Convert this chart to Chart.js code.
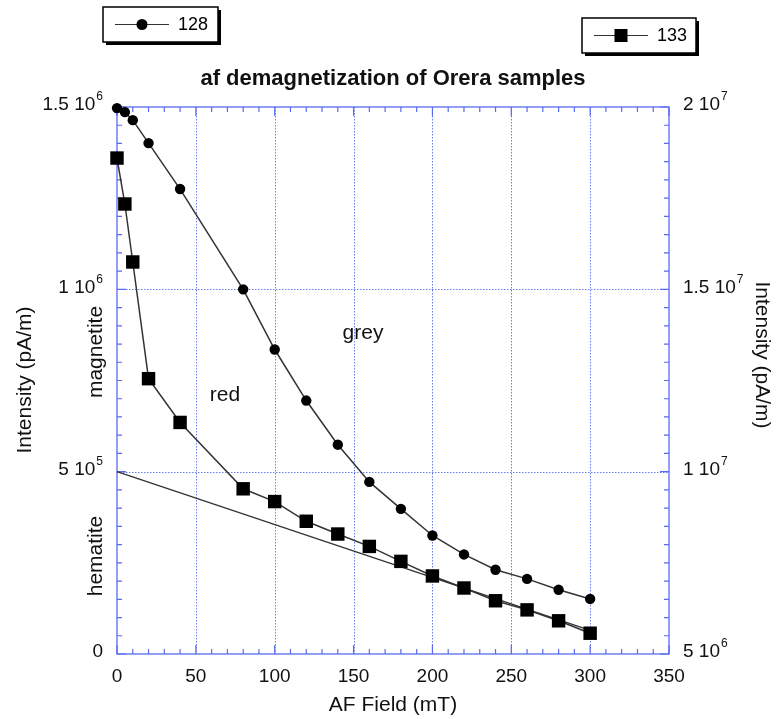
<!DOCTYPE html>
<html>
<head>
<meta charset="utf-8">
<script src="https://cdn.jsdelivr.net/npm/chart.js@4.4.1/dist/chart.umd.min.js"></script>
<style>
  html, body { margin: 0; padding: 0; background: #ffffff; }
  #wrap { position: relative; width: 779px; height: 719px; }
</style>
</head>
<body>
<div id="wrap"><canvas id="c" width="779" height="719"></canvas></div>
<script>
// ---------------- data ----------------
const afField = [0, 5, 10, 20, 40, 80, 100, 120, 140, 160, 180, 200, 220, 240, 260, 280, 300];
const sample128 = [1.497e6, 1.486e6, 1.464e6, 1.401e6, 1.275e6, 1.0e6, 0.835e6, 0.695e6, 0.574e6, 0.472e6, 0.398e6, 0.325e6, 0.273e6, 0.231e6, 0.206e6, 0.176e6, 0.151e6];
const sample133 = [1.860e7, 1.734e7, 1.575e7, 1.255e7, 1.135e7, 9.53e6, 9.18e6, 8.64e6, 8.29e6, 7.95e6, 7.54e6, 7.14e6, 6.81e6, 6.46e6, 6.21e6, 5.91e6, 5.57e6];
const hematiteX = [0, 300];
const hematiteY = [1.0e7, 5.65e6];
const seriesLabels = ['128', '133'];
const xTicks = [0, 50, 100, 150, 200, 250, 300, 350];
const leftTicks = [0, 5e5, 1e6, 1.5e6];
const rightTicks = [5e6, 1e7, 1.5e7, 2e7];
const titleText = 'af demagnetization of Orera samples';
const xTitle = 'AF Field (mT)';
const yTitle = 'Intensity (pA/m)';
const notes = [
  { text: 'grey', x: 156, y: 0.88e6 },
  { text: 'red', x: 68.5, y: 0.709e6 }
];

// ---------------- styling ----------------
const FONT = '"Liberation Sans", Arial, Helvetica, sans-serif';
const AXIS_BLUE = '#5a6af0';
const GRID_BLUE = '#6b7cf0';

function sciParts(v) {
  if (v === 0) return { main: '0', sup: '' };
  const e = Math.floor(Math.log10(v) + 1e-9);
  let m = v / Math.pow(10, e);
  m = Math.round(m * 10) / 10;
  return { main: m + ' 10', sup: String(e) };
}

function drawSci(ctx, v, x, y, align) {
  const p = sciParts(v);
  ctx.font = '19px ' + FONT;
  const wm = ctx.measureText(p.main).width;
  ctx.font = '12px ' + FONT;
  const ws = p.sup ? ctx.measureText(p.sup).width + 1 : 0;
  const total = wm + ws;
  let sx = x;
  if (align === 'right') sx = x - total;
  else if (align === 'center') sx = x - total / 2;
  ctx.fillStyle = '#111';
  ctx.textAlign = 'left';
  ctx.textBaseline = 'middle';
  ctx.font = '19px ' + FONT;
  ctx.fillText(p.main, sx, y);
  if (p.sup) {
    ctx.font = '12px ' + FONT;
    ctx.fillText(p.sup, sx + wm + 1, y - 8);
  }
}

const framePlugin = {
  id: 'framePlugin',
  beforeDatasetsDraw(chart) {
    const ctx = chart.ctx;
    const a = chart.chartArea;
    const xs = chart.scales.x, ys = chart.scales.y;
    ctx.save();
    // dotted grid
    ctx.strokeStyle = GRID_BLUE;
    ctx.lineWidth = 1;
    ctx.setLineDash([1.5, 1.5]);
    xTicks.forEach(t => {
      if (t === xs.min || t === xs.max) return;
      const px = Math.round(xs.getPixelForValue(t)) + 0.5;
      ctx.beginPath(); ctx.moveTo(px, a.top); ctx.lineTo(px, a.bottom); ctx.stroke();
    });
    leftTicks.forEach(t => {
      if (t === ys.min || t === ys.max) return;
      const py = Math.round(ys.getPixelForValue(t)) + 0.5;
      ctx.beginPath(); ctx.moveTo(a.left, py); ctx.lineTo(a.right, py); ctx.stroke();
    });
    ctx.setLineDash([]);
    // frame
    ctx.strokeStyle = AXIS_BLUE;
    ctx.lineWidth = 1.3;
    ctx.strokeRect(a.left, a.top, a.right - a.left, a.bottom - a.top);
    // x ticks (inward, top and bottom)
    ctx.lineWidth = 1.2;
    for (let t = xs.min; t <= xs.max + 1e-9; t += 10) {
      const major = Math.abs(t % 50) < 1e-9;
      const len = major ? 9 : 5;
      const px = xs.getPixelForValue(t);
      ctx.beginPath();
      ctx.moveTo(px, a.bottom); ctx.lineTo(px, a.bottom - len);
      ctx.moveTo(px, a.top); ctx.lineTo(px, a.top + len);
      ctx.stroke();
    }
    // y ticks (inward, left and right)
    const step = 5e4;
    for (let i = 0; i <= Math.round((ys.max - ys.min) / step); i++) {
      const t = ys.min + i * step;
      const major = i % 10 === 0;
      const len = major ? 9 : 5;
      const py = ys.getPixelForValue(t);
      ctx.beginPath();
      ctx.moveTo(a.left, py); ctx.lineTo(a.left + len, py);
      ctx.moveTo(a.right, py); ctx.lineTo(a.right - len, py);
      ctx.stroke();
    }
    ctx.restore();
  },
  afterDraw(chart) {
    const ctx = chart.ctx;
    const a = chart.chartArea;
    const xs = chart.scales.x, ys = chart.scales.y, y2 = chart.scales.y2;
    ctx.save();
    // tick labels
    ctx.fillStyle = '#111';
    ctx.font = '19px ' + FONT;
    ctx.textAlign = 'center';
    ctx.textBaseline = 'middle';
    xTicks.forEach(t => {
      ctx.fillText(String(t), xs.getPixelForValue(t), a.bottom + 23);
    });
    leftTicks.forEach(t => drawSci(ctx, t, a.left - 14, ys.getPixelForValue(t) - 2, 'right'));
    rightTicks.forEach(t => drawSci(ctx, t, a.right + 14, y2.getPixelForValue(t) - 2, 'left'));

    // title
    ctx.fillStyle = '#111';
    ctx.font = 'bold 22px ' + FONT;
    ctx.textAlign = 'center';
    ctx.textBaseline = 'middle';
    ctx.fillText(titleText, (a.left + a.right) / 2, 79);

    // axis titles
    ctx.font = '21px ' + FONT;
    ctx.fillText(xTitle, (a.left + a.right) / 2, 705);
    ctx.save();
    ctx.translate(25, 380);
    ctx.rotate(-Math.PI / 2);
    ctx.fillText(yTitle, 0, 0);
    ctx.restore();
    ctx.save();
    ctx.translate(762, 355);
    ctx.rotate(Math.PI / 2);
    ctx.fillText(yTitle, 0, 0);
    ctx.restore();

    // side notes
    ctx.font = '21px ' + FONT;
    ctx.save();
    ctx.translate(96, 352);
    ctx.rotate(-Math.PI / 2);
    ctx.fillText('magnetite', 0, 0);
    ctx.restore();
    ctx.save();
    ctx.translate(96, 556);
    ctx.rotate(-Math.PI / 2);
    ctx.fillText('hematite', 0, 0);
    ctx.restore();

    // in-plot notes
    ctx.font = '21px ' + FONT;
    notes.forEach(n => {
      ctx.fillText(n.text, xs.getPixelForValue(n.x), ys.getPixelForValue(n.y));
    });

    // legend boxes
    function legendBox(bx, by, bw, bh, label, style) {
      ctx.fillStyle = '#000';
      ctx.fillRect(bx + 3, by + 3, bw, bh);
      ctx.fillStyle = '#fff';
      ctx.fillRect(bx, by, bw, bh);
      ctx.strokeStyle = '#000';
      ctx.lineWidth = 1.5;
      ctx.strokeRect(bx, by, bw, bh);
      const cy = by + bh / 2;
      ctx.strokeStyle = '#333';
      ctx.lineWidth = 1.2;
      ctx.beginPath(); ctx.moveTo(bx + 12, cy); ctx.lineTo(bx + 66, cy); ctx.stroke();
      ctx.fillStyle = '#000';
      if (style === 'circle') {
        ctx.beginPath(); ctx.arc(bx + 39, cy, 5.5, 0, Math.PI * 2); ctx.fill();
      } else {
        ctx.fillRect(bx + 39 - 6.5, cy - 6.5, 13, 13);
      }
      ctx.font = '18px ' + FONT;
      ctx.textAlign = 'left';
      ctx.textBaseline = 'middle';
      ctx.fillText(label, bx + 75, cy + 1);
    }
    legendBox(103, 7, 115, 35, seriesLabels[0], 'circle');
    legendBox(582, 18, 114, 35, seriesLabels[1], 'rect');
    ctx.restore();
  }
};

const ctx = document.getElementById('c').getContext('2d');
new Chart(ctx, {
  type: 'scatter',
  data: {
    datasets: [
      {
        label: seriesLabels[0],
        data: afField.map((x, i) => ({ x, y: sample128[i] })),
        yAxisID: 'y',
        showLine: true,
        borderColor: '#333',
        borderWidth: 1.5,
        pointStyle: 'circle',
        pointRadius: 5.2,
        pointBackgroundColor: '#000',
        pointBorderColor: '#000',
        pointBorderWidth: 0,
        clip: false
      },
      {
        label: seriesLabels[1],
        data: afField.map((x, i) => ({ x, y: sample133[i] })),
        yAxisID: 'y2',
        showLine: true,
        borderColor: '#333',
        borderWidth: 1.5,
        pointStyle: 'rect',
        pointRadius: 9.5,
        pointBackgroundColor: '#000',
        pointBorderColor: '#000',
        pointBorderWidth: 0,
        clip: false
      },
      {
        label: 'hematite',
        data: hematiteX.map((x, i) => ({ x, y: hematiteY[i] })),
        yAxisID: 'y2',
        showLine: true,
        borderColor: '#333',
        borderWidth: 1.3,
        pointRadius: 0,
        clip: false
      }
    ]
  },
  options: {
    responsive: false,
    animation: false,
    devicePixelRatio: 1,
    layout: { padding: { left: 117, right: 110, top: 107, bottom: 65 } },
    plugins: { legend: { display: false }, tooltip: { enabled: false }, title: { display: false } },
    scales: {
      x: { type: 'linear', min: 0, max: 350, display: false },
      y: { type: 'linear', min: 0, max: 1.5e6, display: false },
      y2: { type: 'linear', min: 5e6, max: 2e7, display: false, position: 'right' }
    }
  },
  plugins: [framePlugin]
});
</script>
</body>
</html>
